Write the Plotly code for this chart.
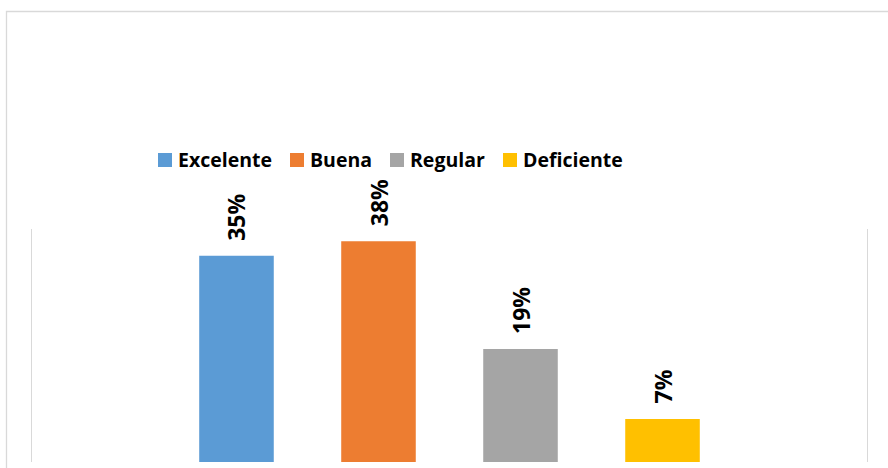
import plotly.graph_objects as go

categories = ["Excelente", "Buena", "Regular", "Deficiente"]
values = [35.4, 37.9, 19.4, 7.4]
labels = ["35%", "38%", "19%", "7%"]
colors = ["#5B9BD5", "#ED7D31", "#A5A5A5", "#FFC000"]

W, H = 888, 468
# plot area in page pixels: x 32-867, y 229-462
L, R = 32, W - 867
T, B = 229, H - 462
pw, ph = W - L - R, H - T - B

def px_x(p):
    return (p - L) / pw

def px_y(p):
    return (H - B - p) / ph

fig = go.Figure()
for c, v, col in zip(categories, values, colors):
    fig.add_trace(go.Bar(x=[c], y=[v], name=c, marker=dict(color=col, line=dict(width=0)),
                         width=0.525, hoverinfo="skip", showlegend=False))

for c, v, t in zip(categories, values, labels):
    fig.add_annotation(x=c, y=v, text="<b>%s</b>" % t, textangle=-90, showarrow=False,
                       xanchor="center", yanchor="bottom", yshift=13,
                       font=dict(family="Open Sans", size=23, color="#000000"))

# legend (squares + text)
legend_sq_left = [158, 290, 390, 503]
for c, col, x0 in zip(categories, colors, legend_sq_left):
    fig.add_shape(type="rect", xref="paper", yref="paper",
                  x0=px_x(x0), x1=px_x(x0 + 14), y0=px_y(167), y1=px_y(153),
                  line=dict(width=0), fillcolor=col)
    fig.add_annotation(xref="paper", yref="paper", x=px_x(x0 + 18), y=px_y(159),
                       xanchor="left", yanchor="middle", showarrow=False,
                       text="<b>%s</b>" % c,
                       font=dict(family="Open Sans", size=19.5, color="#000000"))

fig.add_shape(type="rect", xref="paper", yref="paper",
              x0=px_x(6.5), x1=px_x(900), y0=px_y(11.5), y1=px_y(480),
              line=dict(color="#d9d9d9", width=1.3), fillcolor="rgba(0,0,0,0)", layer="below")

fig.update_layout(
    width=W, height=H,
    margin=dict(l=L, r=R, t=T, b=B, pad=0),
    paper_bgcolor="white", plot_bgcolor="white",
    barmode="overlay",
    showlegend=False,
    xaxis=dict(type="category", categoryorder="array", categoryarray=categories,
               range=[-1.44, 4.44], showticklabels=False, showgrid=False, zeroline=False,
               showline=False, ticks=""),
    yaxis=dict(range=[0, 40], showticklabels=False, showgrid=False, zeroline=False,
               showline=True, mirror=True, linecolor="#d9d9d9", linewidth=1.3, ticks=""),
)

fig.write_html("out.html", config={"displayModeBar": False},
               post_script="document.body.style.margin='0';")
